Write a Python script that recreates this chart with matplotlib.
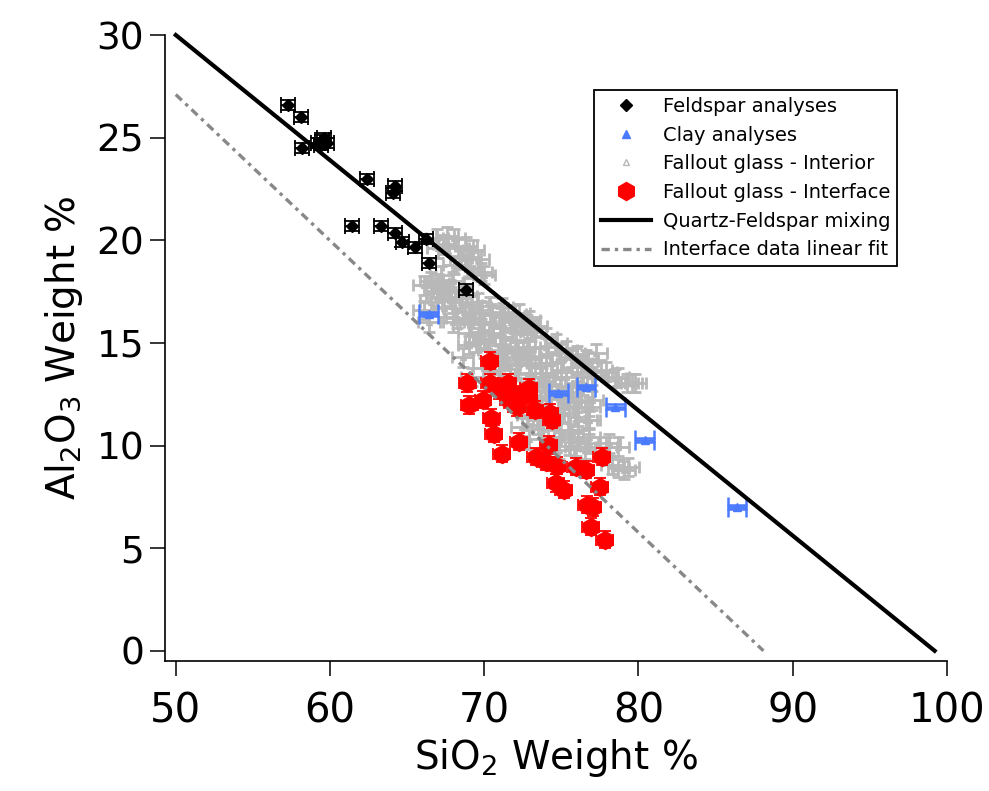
import numpy as np
import matplotlib
matplotlib.use("Agg")
import matplotlib.pyplot as plt

plt.rcParams['font.family'] = ['DejaVu Sans']
plt.rcParams['mathtext.fontset'] = 'dejavusans'

# feldspar analyses
feld_x = [57.3, 58.1, 58.2, 59.2, 59.4, 59.5, 59.6, 59.8, 62.4, 64.1, 64.2,
          61.4, 63.3, 64.2, 64.7, 65.5, 66.2, 66.4, 68.8]
feld_y = [26.6, 26.0, 24.5, 24.75, 24.65, 24.9, 25.0, 24.75, 23.0, 22.3, 22.65,
          20.7, 20.7, 20.35, 19.9, 19.65, 20.05, 18.9, 17.6]

# clay analyses
clay_x = [66.4, 74.8, 76.6, 78.5, 80.4, 86.4]
clay_y = [16.4, 12.55, 12.85, 11.9, 10.25, 7.0]

# fallout glass - interior
int_x = [67.6, 68.05, 68.8, 69.3, 69.1, 68.5, 68.05, 69.8, 70.0, 66.95, 67.4,
         66.1, 66.55, 66.95, 67.4, 67.85, 68.5, 69.15, 69.8, 70.45, 71.1, 71.75,
         72.4, 73.0, 66.55, 67.4, 68.25, 69.15, 66.95, 68.05, 68.7, 70.0, 70.6,
         71.3, 69.8, 71.15, 72.25, 72.9, 73.35, 74.0, 74.65, 75.3, 75.95, 76.3,
         69.65, 70.3, 71.15, 72.05, 72.9, 73.55, 74.4, 69.45, 71.15, 72.05, 72.9,
         73.75, 69.2, 71.6, 76.0, 76.7, 74.0, 74.85, 75.7, 76.6, 77.25, 77.9,
         78.5, 79.25, 79.8, 74.0, 75.3, 75.95, 74.0, 75.5, 76.8, 76.1, 76.8,
         74.85, 75.7, 76.8, 77.9, 78.7, 74.85, 76.1, 72.45, 73.55, 74.85, 75.7,
         76.6, 76.8, 78.1, 75.95, 78.7, 79.05, 72.9, 78.3, 79.35, 77.6, 78.7,
         79.55, 69.0, 70.3, 70.95, 72.25, 68.6, 66.1, 66.4,
         70.5, 71.5, 72.5, 73.0, 74.2, 73.2, 75.0, 75.8, 74.8, 73.8, 71.8,
         70.0, 69.3, 67.2, 68.0, 73.6, 75.2, 76.4, 77.0,
         67.0, 68.3, 69.6, 68.9, 67.0, 67.8, 68.8, 69.6, 70.4, 71.2, 72.0, 72.8,
         68.0, 69.0, 70.0, 71.0, 72.0, 73.0, 74.0, 75.0, 76.0, 77.0,
         70.0, 71.0, 72.0, 73.0, 74.0, 75.0, 76.0, 72.8, 73.5, 74.5, 75.5,
         76.5, 73.0]
int_y = [20.2, 20.1, 19.7, 19.55, 19.2, 19.15, 18.8, 18.45, 18.3, 20.1, 19.8,
         17.8, 18.0, 17.7, 17.5, 17.25, 17.0, 16.85, 16.6, 16.45, 16.25, 16.0,
         15.9, 15.55, 17.0, 16.7, 16.2, 15.9, 17.2, 16.7, 16.5, 16.0, 15.9,
         15.75, 15.55, 16.75, 16.45, 16.1, 15.8, 15.3, 15.0, 14.65, 14.3, 14.0,
         16.0, 15.5, 15.3, 15.15, 14.8, 14.3, 14.0, 15.0, 14.5, 14.0, 13.55,
         13.35, 13.35, 12.7, 14.4, 14.1, 14.8, 14.5, 14.3, 14.2, 14.5, 13.6,
         13.3, 13.05, 13.05, 13.55, 13.35, 13.05, 12.4, 12.4, 11.9, 11.4, 11.25,
         11.1, 10.3, 10.1, 9.95, 9.95, 9.8, 10.75, 10.9, 11.25, 10.75, 10.6,
         11.25, 10.4, 10.1, 9.95, 8.9, 8.8, 10.3, 9.05, 8.95, 13.7, 13.35,
         13.05, 14.9, 14.65, 13.7, 13.95, 14.3, 16.6, 16.0,
         14.0, 14.3, 14.6, 13.9, 13.0, 12.9, 12.9, 11.9, 11.8, 10.8, 15.6,
         15.2, 16.2, 18.3, 18.0, 12.2, 11.6, 12.9, 12.2,
         19.6, 19.6, 19.1, 18.6, 17.9, 17.6, 17.3, 17.0, 16.8, 16.5, 16.4, 15.9,
         16.0, 15.5, 15.1, 14.9, 14.6, 14.3, 14.0, 13.7, 13.6, 13.4,
         13.8, 13.5, 13.3, 13.1, 12.7, 12.3, 12.1, 11.5, 11.0, 10.4, 10.0,
         9.8, 12.3]

# fallout glass - interface
ifc_x = [70.37, 68.89, 70.37, 71.54, 72.90, 69.02, 69.92, 71.60, 72.12, 73.29,
         74.26, 74.39, 70.44, 70.63, 72.25, 71.15, 74.19, 73.35, 74.00, 74.71,
         75.94, 76.58, 77.62, 74.64, 75.16, 77.49, 76.65, 77.04, 76.91, 77.81,
         72.90, 70.96, 72.25]
ifc_y = [14.13, 13.05, 13.05, 13.05, 12.81, 11.98, 12.23, 12.23, 11.88, 11.74,
         11.59, 11.25, 11.35, 10.57, 10.18, 9.60, 10.03, 9.45, 9.21, 9.01,
         8.96, 8.82, 9.45, 8.18, 7.84, 7.99, 7.11, 7.01, 6.04, 5.41,
         12.47, 12.71, 12.47]

# lines
mix_x = [50, 99.2]
mix_y = [30, 0]
fit_x = [50, 88.1]
fit_y = [27.1, 0]

fig = plt.figure(figsize=(9.89, 7.91), dpi=100)
ax = fig.add_axes([0.1668, 0.1643, 0.7907, 0.7914])

gray = '#b8b8b8'
blue = '#4a7bff'

ax.errorbar(int_x, int_y, xerr=0.7, yerr=0.45, fmt='none', ecolor=gray,
            elinewidth=2.0, capsize=4, capthick=2.0, zorder=1)
ax.plot(int_x, int_y, '^', ms=4, mfc=gray, mec=gray, ls='none', zorder=1)
ax.plot([], [], '^', ms=4, mfc='white', mec=gray, ls='none',
        label='Fallout glass - Interior')

ax.errorbar(feld_x, feld_y, xerr=0.45, yerr=0.25, fmt='none', ecolor='black',
            elinewidth=1.3, capsize=6, capthick=1.3, zorder=2)
ax.plot(feld_x, feld_y, 'D', ms=6, color='black', ls='none', zorder=2,
        label='Feldspar analyses')

ax.errorbar(clay_x, clay_y, xerr=0.6, yerr=0.1, fmt='none', ecolor=blue,
            elinewidth=1.8, capsize=7, capthick=1.8, zorder=3)
ax.plot(clay_x, clay_y, '^', ms=5.5, color=blue, ls='none', zorder=3,
        label='Clay analyses')

ax.errorbar(ifc_x, ifc_y, xerr=0.55, yerr=0.42, fmt='none', ecolor='red',
            elinewidth=1.3, capsize=4, capthick=1.3, zorder=4)
ax.plot(ifc_x, ifc_y, 'h', ms=13, color='red', ls='none', zorder=4,
        label='Fallout glass - Interface')

ax.plot(mix_x, mix_y, color='black', lw=3, zorder=5, clip_on=False,
        label='Quartz-Feldspar mixing')
ax.plot(fit_x, fit_y, color='#888888', lw=2.4, ls=(0, (2.5, 1.5, 1, 1.5)),
        zorder=5, clip_on=False, label='Interface data linear fit')

ax.set_xlim(49.3, 100)
ax.set_ylim(-0.5, 30)
ax.set_xticks([50, 60, 70, 80, 90, 100])
ax.set_yticks([0, 5, 10, 15, 20, 25, 30])
ax.spines['top'].set_visible(False)
ax.spines['right'].set_visible(False)
ax.spines['left'].set_linewidth(1.2)
ax.spines['bottom'].set_linewidth(1.2)
ax.tick_params(axis='both', direction='out', length=11, width=1.1)
ax.tick_params(axis='y', labelsize=27, pad=4)
ax.tick_params(axis='x', labelsize=29, pad=11)

ax.set_xlabel(r'SiO$_2$ Weight %', fontsize=28, labelpad=4)
ax.set_ylabel(r'Al$_2$O$_3$ Weight %', fontsize=28, labelpad=8)

handles, labels = ax.get_legend_handles_labels()
order = ['Feldspar analyses', 'Clay analyses', 'Fallout glass - Interior',
         'Fallout glass - Interface', 'Quartz-Feldspar mixing',
         'Interface data linear fit']
hmap = dict(zip(labels, handles))
leg = ax.legend([hmap[k] for k in order], order, loc='upper left',
                bbox_to_anchor=(594 / 989, 1 - 90 / 791),
                bbox_transform=fig.transFigure, fontsize=14, frameon=True,
                fancybox=False, edgecolor='black', framealpha=1,
                borderpad=0.35, labelspacing=0.5, handlelength=2.6,
                handletextpad=0.6, borderaxespad=0)
leg.get_frame().set_linewidth(1.3)

fig.savefig('out.png', dpi=100)
